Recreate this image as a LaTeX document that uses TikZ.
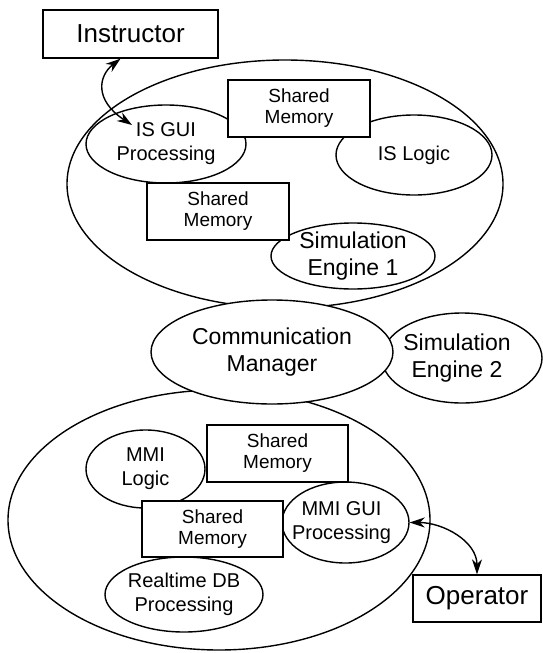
\documentclass[tikz,border=0pt]{standalone}
\usepackage{fontspec}
\setmainfont{Liberation Sans}
\usetikzlibrary{arrows.meta}
\usetikzlibrary{shapes.geometric}
\usetikzlibrary{calc}

\begin{document}
\begin{tikzpicture}[x=1pt,y=-1pt,>={Stealth[length=15pt,width=10pt]},
  line width=1.4pt,inner sep=0pt]

  \tikzstyle{sys}=[ellipse,draw];
  \tikzstyle{proc}=[ellipse,draw];
  \tikzstyle{shm}=[rectangle,draw,fill=white,minimum width=142pt,minimum height=57pt,
    align=center,font=\fontsize{19}{21}\selectfont];
  \tikzstyle{actor}=[rectangle,draw,fill=white,minimum height=48pt,
    font=\fontsize{26}{30}\selectfont];
  \tikzstyle{txt}=[align=center,font=\fontsize{20}{24}\selectfont];
  \tikzstyle{bigtxt}=[align=center,font=\fontsize{23}{27}\selectfont];

  \useasboundingbox (0,0) rectangle (542,653);

  % systems
  \node[sys,minimum width=436pt,minimum height=248pt] (issys)  at (285,184) {};
  \node[sys,minimum width=422pt,minimum height=260pt] (mmisys) at (219,520) {};
  \node[proc,minimum width=160pt,minimum height=90pt] (sim2) at (462,358) {};
  \node[proc,fill=white,minimum width=242pt,minimum height=104pt] (comm) at (272,352) {};

  % instructor side
  \node[proc,minimum width=160pt,minimum height=78pt] (isgui)   at (166,144) {};
  \node[proc,minimum width=156pt,minimum height=80pt] (islogic) at (414,155) {};
  \node[proc,minimum width=164pt,minimum height=66pt] (sim1)    at (353,256) {};
  \node[shm] (shm1) at (299,108.5) {Shared\\Memory};
  \node[shm] (shm2) at (218,211.5) {Shared\\Memory};

  % operator side
  \node[proc,minimum width=119pt,minimum height=78pt] (mmilogic) at (145.5,469) {};
  \node[proc,minimum width=127pt,minimum height=81pt] (mmigui)   at (345.5,522.5) {};
  \node[proc,minimum width=158pt,minimum height=75pt] (rtdb)     at (184,594.5) {};
  \node[shm,minimum width=141pt] (shm3) at (277.5,453.5) {Shared\\Memory};
  \node[shm,minimum width=141pt,minimum height=56pt] (shm4) at (212.5,529) {Shared\\Memory};

  \node[txt]    (isguitxt)    at (isgui)    {IS GUI\\Processing};
  \node[txt]    (islogictxt)  at (islogic)  {IS Logic};
  \node[bigtxt] (sim1txt)     at (sim1)     {Simulation\\Engine 1};
  \node[bigtxt] (commtxt)     at (comm)     {Communication\\Manager};
  \node[bigtxt,xshift=-5pt] (sim2txt) at (sim2) {Simulation\\Engine 2};
  \node[txt]    (mmilogictxt) at (mmilogic) {MMI\\Logic};
  \node[txt,xshift=-4pt] (mmiguitxt) at (mmigui) {MMI GUI\\Processing};
  \node[txt]    (rtdbtxt)     at (rtdb)     {Realtime DB\\Processing};

  \node[actor,minimum width=175pt] (instr)    at (130.5,34)  {Instructor};
  \node[actor,minimum width=128pt,minimum height=47pt] (operator) at (477,598.5) {Operator};

  \draw[<->] ($(instr.south)+(-10,0)$) .. controls +(-22,17) and +(-38,-25) .. ($(isgui)+(-34,-19)$);
  \draw[<->] (mmigui.east) to[out=0,in=90] (operator.north);

\end{tikzpicture}
\end{document}
